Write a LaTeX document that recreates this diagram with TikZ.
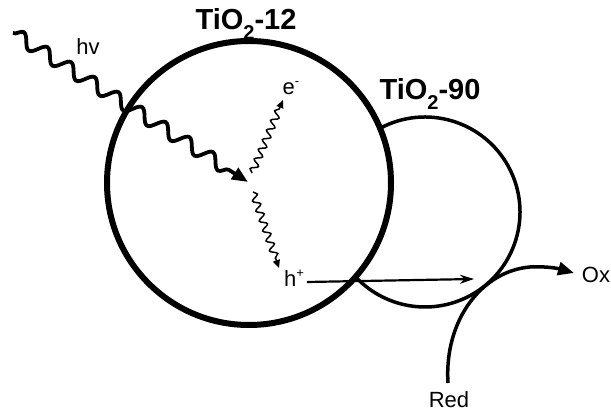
\documentclass[tikz,border=0pt]{standalone}
\usepackage{fontspec}
\setmainfont{Liberation Sans}
\usetikzlibrary{decorations.pathmorphing,arrows.meta}
\begin{document}
\begin{tikzpicture}[x=1pt,y=1pt,
  lbl/.style={font=\fontsize{22}{22}\selectfont, inner sep=0pt, anchor=base},
  title/.style={font=\fontsize{29}{29}\selectfont\bfseries, inner sep=0pt, anchor=base},
  photon/.style={line width=3.8pt, decorate,
     decoration={snake, amplitude=6.5pt, segment length=28pt, post length=14pt},
     -{Triangle[length=16pt,width=13pt]}},
  carrier/.style={line width=1.5pt, decorate,
     decoration={snake, amplitude=3.5pt, segment length=10.5pt, post length=7pt},
     -{Triangle[length=8pt,width=7pt]}},
  bigp/.style={line width=6pt},
  smallp/.style={line width=3.5pt},
  transfer/.style={line width=2.2pt, -{Stealth[length=14pt,width=9pt]}},
  redox/.style={line width=3.5pt, -{Triangle[length=16pt,width=13pt]}}]
\useasboundingbox (0,0) rectangle (611,412);

% particles
\coordinate (c12) at (249,229);
\coordinate (c90) at (425,200);
\draw[bigp] (c12) circle (142);
\draw[smallp] ([shift={(118.3:95)}]c90) arc[start angle=118.3, end angle=-138, radius=95];

% labels
\node[title] (t12) at (246,382) {TiO\raisebox{-0.32em}{\fontsize{20}{20}\selectfont 2}-12};
\node[title] (t90) at (430,312) {TiO\raisebox{-0.32em}{\fontsize{20}{20}\selectfont 2}-90};
\node[lbl] (hv) at (88,357) {hv};
\node[lbl] (el) at (291,317) {e\raisebox{0.45em}{\fontsize{13}{13}\selectfont -}};
\node[lbl] (hp) at (294,125) {h\raisebox{0.45em}{\fontsize{13}{13}\selectfont +}};
\node[lbl] (ox) at (596,129) {Ox};
\node[lbl] (red) at (449,4) {Red};

% photon
\coordinate (ph0) at (13,379);
\coordinate (ph1) at (248,230);
\draw[photon] (ph0) -- (ph1);

% electron and hole
\coordinate (e0) at (252,239);
\coordinate (e1) at (283,312);
\draw[carrier] (e0) -- (e1);
\coordinate (h0) at (253,220);
\coordinate (h1) at (279,144);
\draw[carrier] (h0) -- (h1);

% hole transfer
\coordinate (tr0) at (307,130);
\coordinate (tr1) at (474,133);
\draw[transfer] (tr0) -- (tr1);

% Red -> Ox
\coordinate (rd0) at (448,29);
\coordinate (ox0) at (574,139);
\draw[redox] (rd0) .. controls (444,92) and (482,141) .. (530,145)
   .. controls (548,146) and (560,143) .. (ox0);
\end{tikzpicture}
\end{document}
